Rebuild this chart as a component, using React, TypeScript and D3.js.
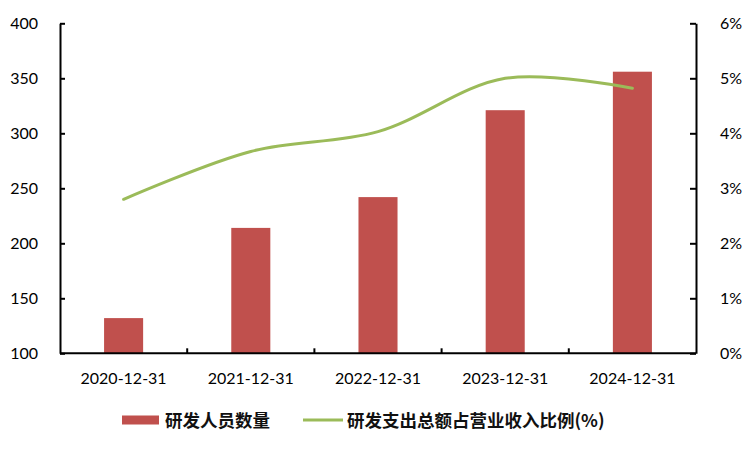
import { useEffect, useRef } from "react";
import * as d3 from "d3";

const categories = ["2020-12-31", "2021-12-31", "2022-12-31", "2023-12-31", "2024-12-31"];
const staffCount = [132, 214, 242, 321, 356];
const rdRatio = [2.8, 3.67, 4.03, 5.0, 4.82];
const leftTicks = [100, 150, 200, 250, 300, 350, 400];
const rightTicks = [0, 1, 2, 3, 4, 5, 6];
const barName = "研发人员数量";
const lineName = "研发支出总额占营业收入比例(%)";

export default function App() {
    const svgRef = useRef<SVGSVGElement | null>(null);

    useEffect(() => {
        const width = 750;
        const height = 450;
        const marginLeft = 60;
        const marginRight = 54;
        const marginTop = 23.3;
        const marginBottom = 96.7;
        const barColor = "#C0504D";
        const lineColor = "#9BBB59";
        const font = "Lato, 'Open Sans', sans-serif";

        const svg = d3.select(svgRef.current)
            .attr("width", width)
            .attr("height", height)
            .attr("viewBox", [0, 0, width, height].join(" "));
        svg.selectAll("*").remove();

        const x = d3.scaleBand()
            .domain(categories)
            .range([marginLeft, width - marginRight])
            .paddingInner(0)
            .paddingOuter(0);

        const yLeft = d3.scaleLinear()
            .domain([100, 400])
            .range([height - marginBottom, marginTop]);

        const yRight = d3.scaleLinear()
            .domain([0, 6])
            .range([height - marginBottom, marginTop]);

        // bars
        const barW = x.bandwidth() * 0.307;
        svg.append("g")
            .selectAll("rect")
            .data(staffCount)
            .enter()
            .append("rect")
            .attr("x", (_d, i) => x(categories[i])! + x.bandwidth() / 2 - barW / 2)
            .attr("y", d => yLeft(d))
            .attr("width", barW)
            .attr("height", d => yLeft(100) - yLeft(d))
            .attr("fill", barColor);

        // smoothed ratio line
        const line = d3.line<number>()
            .x((_d, i) => x(categories[i])! + x.bandwidth() / 2)
            .y(d => yRight(d))
            .curve(d3.curveCatmullRom.alpha(0.5));

        svg.append("path")
            .attr("fill", "none")
            .attr("stroke", lineColor)
            .attr("stroke-width", 3)
            .attr("stroke-linecap", "round")
            .attr("d", line(rdRatio));

        // left axis
        svg.append("g")
            .attr("transform", `translate(${marginLeft},0)`)
            .call(d3.axisLeft(yLeft).tickValues(leftTicks).tickSizeInner(-5).tickSizeOuter(0).tickPadding(22))
            .call(g => g.select(".domain").attr("stroke", "#000").attr("stroke-width", 2))
            .call(g => g.selectAll(".tick line").attr("stroke", "#000").attr("stroke-width", 2))
            .call(g => g.selectAll(".tick text")
                .attr("font-family", font)
                .attr("font-size", 16)
                .attr("fill", "#000"));

        // right axis
        svg.append("g")
            .attr("transform", `translate(${width - marginRight},0)`)
            .call(d3.axisRight(yRight).tickValues(rightTicks).tickFormat(d => `${d}%`)
                .tickSizeInner(-6).tickSizeOuter(0).tickPadding(24))
            .call(g => g.select(".domain").attr("stroke", "#000").attr("stroke-width", 2))
            .call(g => g.selectAll(".tick line").attr("stroke", "#000").attr("stroke-width", 2))
            .call(g => g.selectAll(".tick text")
                .attr("font-family", font)
                .attr("font-size", 16)
                .attr("fill", "#000"));

        // bottom axis with ticks between categories
        const xAxisG = svg.append("g")
            .attr("transform", `translate(0,${height - marginBottom})`);
        xAxisG.append("line")
            .attr("x1", marginLeft)
            .attr("x2", width - marginRight)
            .attr("stroke", "#000")
            .attr("stroke-width", 2);
        xAxisG.selectAll(".sep")
            .data(categories.slice(1))
            .enter()
            .append("line")
            .attr("class", "sep")
            .attr("x1", d => x(d)!)
            .attr("x2", d => x(d)!)
            .attr("y1", 0)
            .attr("y2", -5)
            .attr("stroke", "#000")
            .attr("stroke-width", 2);
        xAxisG.selectAll(".lbl")
            .data(categories)
            .enter()
            .append("text")
            .attr("class", "lbl")
            .attr("x", d => x(d)! + x.bandwidth() / 2)
            .attr("y", 31)
            .attr("text-anchor", "middle")
            .attr("font-family", font)
            .attr("font-size", 16)
            .attr("fill", "#000")
            .text(d => d);

        // legend
        const legend = svg.append("g").attr("transform", "translate(0,420)");
        legend.append("rect")
            .attr("x", 122)
            .attr("y", -4.5)
            .attr("width", 37)
            .attr("height", 9)
            .attr("fill", barColor);
        legend.append("text")
            .attr("x", 165)
            .attr("y", 6.5)
            .attr("font-family", "'Noto Sans CJK SC', sans-serif")
            .attr("font-size", 17.5)
            .attr("font-weight", "bold")
            .attr("fill", "#111")
            .text(barName);
        legend.append("line")
            .attr("x1", 303)
            .attr("x2", 343)
            .attr("stroke", lineColor)
            .attr("stroke-width", 3);
        legend.append("text")
            .attr("x", 347)
            .attr("y", 6.5)
            .attr("font-family", "'Noto Sans CJK SC', sans-serif")
            .attr("font-size", 17.5)
            .attr("font-weight", "bold")
            .attr("fill", "#111")
            .text(lineName);
    }, []);

    return (
        <div style={{ position: "fixed", left: 0, top: 0, background: "#fff" }}>
            <svg ref={svgRef} style={{ display: "block" }} />
        </div>
    );
}
